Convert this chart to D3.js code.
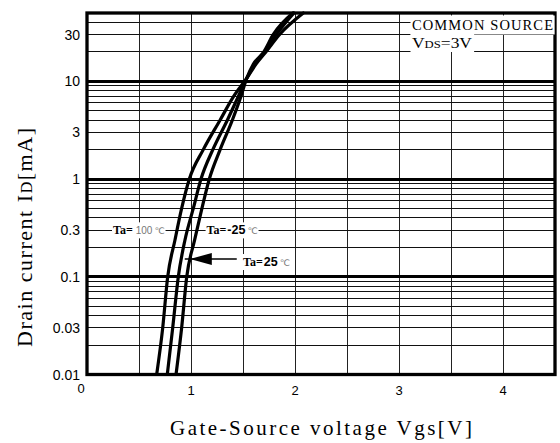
<!DOCTYPE html>
<html><head><meta charset="utf-8">
<script src="https://cdn.jsdelivr.net/npm/d3@7"></script>
<style>body{margin:0;background:#fff}svg{display:block}</style>
</head><body><svg id="c" width="560" height="443"></svg>
<script>
// ---- data ----
const vgsTicks = [0, 1, 2, 3, 4];
const vgsTickLabels = ["0", "1", "2", "3", "4"];
const idTicks = [0.01, 0.03, 0.1, 0.3, 1, 3, 10, 30];
const idTickLabels = ["0.01", "0.03", "0.1", "0.3", "1", "3", "10", "30"];
const curveCurrent = [0.01, 0.03, 0.1, 0.238, 0.5, 1, 2, 4, 7, 10.7, 15, 20, 30, 50];
const vgsTa100 = [0.67, 0.728, 0.776, 0.846, 0.91, 0.984, 1.118, 1.279, 1.41, 1.535, 1.625, 1.72, 1.85, 2.08];
const vgsTa25  = [0.772, 0.824, 0.878, 0.942, 1.022, 1.096, 1.21, 1.349, 1.455, 1.535, 1.615, 1.71, 1.82, 1.99];
const vgsTaM25 = [0.856, 0.91, 0.959, 1.035, 1.105, 1.176, 1.28, 1.397, 1.48, 1.535, 1.60, 1.70, 1.79, 1.98];
const seriesNames = ["Ta=100", "Ta=25", "Ta=-25"];

const svg = d3.select("#c");
const X0 = 87, X1 = 555, Y0 = 13, Y1 = 374.5;
const x = d3.scaleLinear().domain([0, 4.5]).range([X0, X1]);
const y = d3.scaleLog().domain([0.01, 50]).range([Y1, Y0]);
const SERIF = "Liberation Serif, 'DejaVu Serif', serif";

// grid
const g = svg.append("g").attr("shape-rendering", "crispEdges");
const vLines = d3.range(0.5, 4.5, 0.5);
g.selectAll(".v").data(vLines).join("line")
  .attr("x1", d => x(d)).attr("x2", d => x(d)).attr("y1", Y0).attr("y2", Y1)
  .attr("stroke", "#222").attr("stroke-width", 1);
const minor = [];
[-2, -1, 0, 1].forEach(k => { for (let m = 2; m <= 9; m++) { const v = m * Math.pow(10, k); if (v < 50) minor.push(v); } });
g.selectAll(".h").data(minor).join("line")
  .attr("x1", X0).attr("x2", X1).attr("y1", d => y(d)).attr("y2", d => y(d))
  .attr("stroke", "#111").attr("stroke-width", 1);
const major = [0.1, 1, 10];
g.selectAll(".hm").data(major).join("line")
  .attr("x1", X0).attr("x2", X1).attr("y1", d => y(d)).attr("y2", d => y(d))
  .attr("stroke", "#000").attr("stroke-width", 3);

// curves
const series = [vgsTa100, vgsTa25, vgsTaM25].map(arr => arr.map((v, i) => [v, curveCurrent[i]]));
const line = d3.line().x(d => x(d[0])).y(d => y(d[1])).curve(d3.curveMonotoneX);
svg.append("g").selectAll("path").data(series).join("path")
  .attr("d", line).attr("fill", "none").attr("stroke", "#000")
  .attr("stroke-width", 3.2).attr("stroke-linecap", "round");

// border
svg.append("rect").attr("x", X0).attr("y", Y0).attr("width", X1 - X0).attr("height", Y1 - Y0)
  .attr("fill", "none").attr("stroke", "#000").attr("stroke-width", 3.3);

// tick labels
svg.append("g").selectAll("text").data(idTicks).join("text")
  .attr("x", 80).attr("y", d => y(d)).attr("dy", "0.36em")
  .attr("text-anchor", "end").attr("font-family", "Liberation Sans, Arial, sans-serif")
  .attr("font-size", 14).text((d, i) => idTickLabels[i]);
svg.append("g").selectAll("text").data(vgsTicks).join("text")
  .attr("x", d => d === 0 ? x(d) - 6 : x(d)).attr("y", (d) => d === 0 ? 393 : 394.5)
  .attr("text-anchor", "middle").attr("font-family", "Liberation Sans, Arial, sans-serif")
  .attr("font-size", 13).text((d, i) => vgsTickLabels[i]);

// axis titles
svg.append("text").attr("x", 321).attr("y", 435).attr("text-anchor", "middle")
  .attr("font-family", SERIF).attr("font-size", 21)
  .attr("textLength", 302).attr("lengthAdjust", "spacing")
  .text("Gate-Source voltage Vgs[V]");
const yt = svg.append("text").attr("transform", "translate(31.5,237.5) rotate(-90)")
  .attr("text-anchor", "middle").attr("font-family", SERIF)
  .attr("font-size", 22).attr("textLength", 219).attr("lengthAdjust", "spacing");
yt.append("tspan").text("Drain current I");
yt.append("tspan").attr("font-size", 16).text("D");
yt.append("tspan").text("[mA]");

// helper: white background under text
function bg(sel, pad) {
  const b = sel.node().getBBox();
  svg.insert("rect", () => sel.node())
    .attr("x", b.x - pad).attr("y", b.y - pad).attr("width", b.width + 2 * pad).attr("height", b.height + 2 * pad)
    .attr("fill", "#fff");
}

// conditions text
const cs = svg.append("text").attr("x", 412).attr("y", 30)
  .attr("font-family", SERIF).attr("font-size", 14.5)
  .attr("textLength", 141).attr("lengthAdjust", "spacing").text("COMMON SOURCE");
bg(cs, 1.5);
const vds = svg.append("text").attr("x", 412).attr("y", 47.5)
  .attr("font-family", SERIF).attr("font-size", 14.5)
  .attr("textLength", 60).attr("lengthAdjust", "spacingAndGlyphs");
vds.append("tspan").text("V");
vds.append("tspan").attr("font-size", 10.5).text("DS");
vds.append("tspan").text("=3V");
bg(vds, 1.5);

// curve labels
function taLabel(v, cur, temp, bold) {
  const t = svg.append("text").attr("x", x(v)).attr("y", y(cur)).attr("dy", "0.35em");
  t.append("tspan").attr("font-family", SERIF).attr("font-weight", "bold")
    .attr("font-size", 12).text("Ta=");
  if (bold) {
    t.append("tspan").attr("font-family", "Liberation Sans, sans-serif").attr("font-weight", "bold")
      .attr("font-size", 12.5).attr("dx", 1).text(temp);
  } else {
    t.append("tspan").attr("font-family", "Liberation Sans, sans-serif").attr("fill", "#777")
      .attr("font-size", 10).attr("dx", 3).text(temp);
  }
  t.append("tspan").attr("font-family", "DejaVu Sans, sans-serif").attr("fill", "#777")
    .attr("font-size", 9).attr("dx", 2).text("\u2103");
  bg(t, 1);
  return t;
}
taLabel(0.25, 0.31, "100", false);
taLabel(1.15, 0.31, "-25", true);

// arrow for Ta=25
const arrowI = 0.152;
svg.append("line").attr("x1", x(0.94)).attr("x2", x(1.44)).attr("y1", y(arrowI)).attr("y2", y(arrowI))
  .attr("stroke", "#000").attr("stroke-width", 1.3);
svg.append("path")
  .attr("d", `M${x(0.99)},${y(arrowI)} L${x(1.2)},${y(arrowI) - 6} L${x(1.2)},${y(arrowI) + 6} Z`)
  .attr("fill", "#000");
taLabel(1.5, 0.147, "25", true);
</script></body></html>
